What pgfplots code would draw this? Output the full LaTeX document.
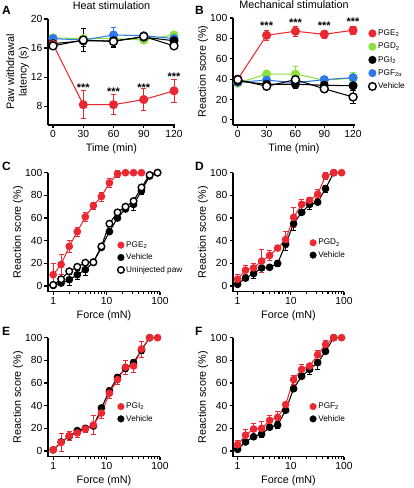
\documentclass[border=0pt]{standalone}
\usepackage{fontspec}
\setmainfont{Liberation Sans}
\usepackage{pgfplots}
\pgfplotsset{compat=1.18}
\definecolor{cred}{RGB}{235,40,50}
\definecolor{cgreen}{RGB}{140,225,60}
\definecolor{cblue}{RGB}{45,120,235}
\pgfplotsset{
  base/.style={
    scale only axis, anchor=south west, axis lines=left,
    axis line style={-, line width=1.1pt},
    tick align=outside, major tick length=3.5pt, minor tick length=2pt,
    every tick/.style={line width=1.1pt, black},
    tick label style={font=\fontsize{10.3}{12}\selectfont},
    label style={font=\fontsize{10.8}{12.5}\selectfont},
    title style={font=\fontsize{10.8}{12.5}\selectfont},
    /pgf/number format/assume math mode=true,
    clip=false, ylabel shift=-3.5pt,
    xticklabel style={inner sep=2pt},
    yticklabel style={inner sep=2pt},
  },
  forcex/.style={
    xmin=0.8, xmax=100, ymin=-5, ymax=100,
    xtick={1,10,100}, xticklabels={1,10,100},
    minor xtick={2,3,4,5,6,7,8,9,20,30,40,50,60,70,80,90},
    ytick={0,20,40,60,80,100},
    xlabel={Force (mN)}, ylabel={Reaction score (\%)},
    legend style={draw=none, fill=none, font=\fontsize{8.2}{9}\selectfont, inner sep=0pt, row sep=1pt, anchor=north west},
    legend cell align=left,
  },
  ser/.style={line width=1.05pt, mark=*, mark size=#1, mark options={solid},
    error bars/y dir=both, error bars/y explicit,
    error bars/error bar style={line width=0.9pt},
    error bars/error mark options={rotate=90, mark size=2.6pt, line width=0.9pt}},
  ser/.default=3.3pt,
  openv/.style={black, mark options={fill=white, draw=black, line width=1.4pt}},
}
\begin{document}
\begin{tikzpicture}
\path[use as bounding box] (0,0) rectangle (413pt,488pt);
\tikzset{plet/.style={anchor=base west, font=\bfseries\fontsize{12}{14}\selectfont, inner sep=0pt},
  stars/.style={font=\bfseries\fontsize{11}{12}\selectfont, inner sep=0pt}}
\node[plet] at (2pt,473pt) {A};
\node[plet] at (195pt,473pt) {B};
\node[plet] at (2pt,317pt) {C};
\node[plet] at (195pt,317pt) {D};
\node[plet] at (2pt,152pt) {E};
\node[plet] at (195pt,152pt) {F};

% ---------------- A
\begin{axis}[base, at={(48pt,363pt)}, width=127pt, height=106pt,
  xmin=-5, xmax=121, ymin=5.4, ymax=20,
  xtick={0,30,60,90,120}, ytick={8,12,16,20},
  xlabel={Time (min)}, ylabel={Paw withdrawal\\latency (s)},
  ylabel style={align=center}, title={Heat stimulation}]
\addplot[ser=4pt, cgreen] table[row sep=\\, y error=e] {x y e\\ 0 17.4 0.3\\ 30 17.3 0.5\\ 60 17.3 0.4\\ 90 17.1 0.3\\ 120 17.8 0.4\\};
\addplot[ser=4pt, cblue] table[row sep=\\, y error=e] {x y e\\ 0 17.3 0.3\\ 30 17.1 0.6\\ 60 17.8 1.0\\ 90 17.7 0.3\\ 120 17.3 0.5\\};
\addplot[ser=4pt, black] table[row sep=\\, y error=e] {x y e\\ 0 16.6 0.3\\ 30 17.0 0.8\\ 60 17.0 0.8\\ 90 17.5 0.3\\ 120 17.0 0.4\\};
\addplot[ser=4pt, cred] table[row sep=\\, y error=e] {x y e\\ 0 16.5 0.6\\ 30 8.2 1.9\\ 60 8.2 1.4\\ 90 8.9 1.5\\ 120 10.1 1.6\\};
\addplot[ser=4pt, openv] table[row sep=\\, y error=e] {x y e\\ 0 16.3 0.3\\ 30 17.1 1.6\\ 60 16.9 0.8\\ 90 17.6 0.3\\ 120 16.3 0.3\\};
\node[stars] at (axis cs:30,10.6) {***};
\node[stars] at (axis cs:60,10.0) {***};
\node[stars] at (axis cs:90,10.6) {***};
\node[stars] at (axis cs:120,12.0) {***};
\end{axis}

% ---------------- B
\begin{axis}[base, at={(233pt,363pt)}, width=122pt, height=107pt,
  xmin=-5, xmax=122, ymin=-5, ymax=100,
  xtick={0,30,60,90,120}, ytick={0,20,40,60,80,100},
  xlabel={Time (min)}, ylabel={Reaction score (\%)},
  title={Mechanical stimulation},
  legend style={draw=none, fill=none, font=\fontsize{8.2}{9}\selectfont, inner sep=0pt, row sep=2pt, at={(1.11,0.91)}, anchor=north west},
  legend cell align=left]
\addlegendimage{only marks, mark=*, mark size=3.8pt, cred}
\addlegendentry{PGE\textsubscript{2}}
\addlegendimage{only marks, mark=*, mark size=3.8pt, cgreen}
\addlegendentry{PGD\textsubscript{2}}
\addlegendimage{only marks, mark=*, mark size=3.8pt, black}
\addlegendentry{PGI\textsubscript{2}}
\addlegendimage{only marks, mark=*, mark size=3.8pt, cblue}
\addlegendentry{PGF\textsubscript{2α}}
\addlegendimage{only marks, mark=*, mark size=3.8pt, black, mark options={fill=white, line width=1.4pt}}
\addlegendentry{Vehicle}
\addplot[ser=4pt, cgreen, forget plot] table[row sep=\\, y error=e] {x y e\\ 0 36 3\\ 30 45 3\\ 60 45 7\\ 90 39 2\\ 120 41 6\\};
\addplot[ser=4pt, cblue, forget plot] table[row sep=\\, y error=e] {x y e\\ 0 37 2\\ 30 39 2\\ 60 36.5 2\\ 90 39.5 2\\ 120 41.5 3\\};
\addplot[ser=4pt, black, forget plot] table[row sep=\\, y error=e] {x y e\\ 0 38 4\\ 30 35 2\\ 60 35 4\\ 90 34 2\\ 120 33.5 3\\};
\addplot[ser=4pt, cred, forget plot] table[row sep=\\, y error=e] {x y e\\ 0 40 3\\ 30 83 5\\ 60 87 5\\ 90 84 4\\ 120 88 4\\};
\addplot[ser=4pt, openv, forget plot] table[row sep=\\, y error=e] {x y e\\ 0 39.5 4\\ 30 33 2\\ 60 39.5 7\\ 90 30.5 3.5\\ 120 22.5 6\\};
\node[stars] at (axis cs:30,92) {***};
\node[stars] at (axis cs:60,95) {***};
\node[stars] at (axis cs:90,92) {***};
\node[stars] at (axis cs:120,96) {***};
\end{axis}

% ---------------- C
\begin{semilogxaxis}[base, forcex, at={(48pt,196.3pt)}, width=112pt, height=119pt,
  legend style={at={(0.62,0.44)}}]
\addlegendimage{only marks, mark=*, mark size=3.3pt, cred}
\addlegendentry{PGE\textsubscript{2}}
\addlegendimage{only marks, mark=*, mark size=3.3pt, black}
\addlegendentry{Vehicle}
\addlegendimage{only marks, mark=*, mark size=3.3pt, black, mark options={fill=white, line width=1.4pt}}
\addlegendentry{Uninjected paw}
\addplot[ser, black, forget plot] table[row sep=\\, y error=e] {x y e\\ 1 0.5 0.5\\ 1.41 2.6 1\\ 2 5.6 5\\ 2.83 10 4\\ 4 14.4 5\\ 5.66 21 1\\ 8 34 2\\ 11.3 48 2\\ 16 60 2\\ 22.6 68 2\\ 32 72 5\\ 45 84 3\\ 64 97 1\\ 90 100 0\\};
\addplot[ser, cred, forget plot] table[row sep=\\, y error=e] {x y e\\ 1 10 10\\ 1.41 19 9\\ 2 35 5\\ 2.83 48 4\\ 4 61 4\\ 5.66 71 3\\ 8 79 4\\ 11.3 91 4\\ 16 99 3\\ 22.6 100 0\\ 32 100 0\\ 45 100 0\\};
\addplot[ser, openv, forget plot] table[row sep=\\, y error=e] {x y e\\ 1 1 0.5\\ 1.41 6 1\\ 2 13 1\\ 2.83 17 1\\ 4 20.6 1\\ 5.66 21 1\\ 8 35 1\\ 11.3 55 1\\ 16 65 1\\ 22.6 70 1\\ 32 75 1\\ 45 87 1\\ 64 98 1\\ 90 100 0\\};
\end{semilogxaxis}

% ---------------- D
\begin{semilogxaxis}[base, forcex, at={(233pt,196.3pt)}, width=111pt, height=119pt,
  xmin=0.82, legend style={at={(0.69,0.46)}}]
\addlegendimage{only marks, mark=*, mark size=3.3pt, cred}
\addlegendentry{PGD\textsubscript{2}}
\addlegendimage{only marks, mark=*, mark size=3.3pt, black}
\addlegendentry{Vehicle}
\addplot[ser, black, forget plot] table[row sep=\\, y error=e] {x y e\\ 1 1.5 2\\ 1.41 7 2\\ 2 11 4\\ 2.83 16 2\\ 4 16.5 1\\ 5.66 20 3\\ 8 37 6\\ 11.3 55 6\\ 16 65 2\\ 22.6 72 4\\ 32 74 2\\ 45 86 3\\ 64 100 0\\};
\addplot[ser, cred, forget plot] table[row sep=\\, y error=e] {x y e\\ 1 6 4\\ 1.41 14 4\\ 2 16 4\\ 2.83 22 10\\ 4 27 4\\ 5.66 33.5 2\\ 8 41 7\\ 11.3 60.6 9\\ 16 72 4\\ 22.6 75.6 3\\ 32 81 4\\ 45 97 3\\ 64 100 0\\ 90 100 0\\};
\end{semilogxaxis}

% ---------------- E
\begin{semilogxaxis}[base, forcex, at={(48pt,31.3pt)}, width=112pt, height=119pt,
  legend style={at={(0.62,0.47)}}]
\addlegendimage{only marks, mark=*, mark size=3.3pt, cred}
\addlegendentry{PGI\textsubscript{2}}
\addlegendimage{only marks, mark=*, mark size=3.3pt, black}
\addlegendentry{Vehicle}
\addplot[ser, black, forget plot] table[row sep=\\, y error=e] {x y e\\ 1 1 1\\ 1.41 8 2\\ 2 13 2\\ 2.83 18 2\\ 4 20 2\\ 5.66 22 2\\ 8 38 2\\ 11.3 53 3\\ 16 65 3\\ 22.6 73 3\\ 32 78 3\\ 45 89 3\\ 64 100 0\\};
\addplot[ser, cred, forget plot] table[row sep=\\, y error=e] {x y e\\ 1 1 1\\ 1.41 7.6 8\\ 2 13.5 4\\ 2.83 16 4\\ 4 19.4 3\\ 5.66 23 8\\ 8 33.5 5\\ 11.3 51 5\\ 16 63 4\\ 22.6 74 6\\ 32 75 6\\ 45 90 7\\ 64 100 0\\ 90 100 0\\};
\end{semilogxaxis}

% ---------------- F
\begin{semilogxaxis}[base, forcex, at={(233pt,31.3pt)}, width=111pt, height=119pt,
  xmin=0.82, legend style={at={(0.69,0.47)}}]
\addlegendimage{only marks, mark=*, mark size=3.3pt, cred}
\addlegendentry{PGF\textsubscript{2}}
\addlegendimage{only marks, mark=*, mark size=3.3pt, black}
\addlegendentry{Vehicle}
\addplot[ser, black, forget plot] table[row sep=\\, y error=e] {x y e\\ 1 1.5 1\\ 1.41 8 2\\ 2 12.6 2\\ 2.83 15 3\\ 4 21 2\\ 5.66 23 3\\ 8 36 2\\ 11.3 55 2\\ 16 66 2\\ 22.6 72 4\\ 32 78 6\\ 45 88 2\\ 64 100 0\\};
\addplot[ser, cred, forget plot] table[row sep=\\, y error=e] {x y e\\ 1 5.6 4\\ 1.41 14 5\\ 2 19.4 5\\ 2.83 20 6\\ 4 27 4\\ 5.66 29.7 5\\ 8 41 2\\ 11.3 63 4\\ 16 72 4\\ 22.6 75 2\\ 32 85 4\\ 45 94 4\\ 64 100 0\\ 90 100 0\\};
\end{semilogxaxis}
\end{tikzpicture}
\end{document}
